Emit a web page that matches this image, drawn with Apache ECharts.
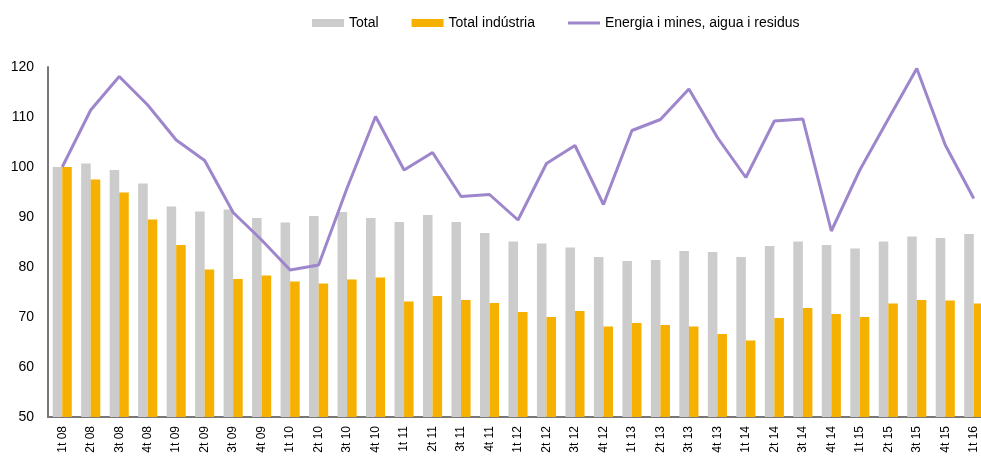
<html lang="ca">
<head>
<meta charset="UTF-8">
<title>Índex</title>
<script src="https://cdn.jsdelivr.net/npm/echarts@6/dist/echarts.min.js"></script>
<style>body{margin:0;background:#fff}</style>
</head>
<body>
<div id="main" style="width:981px;height:456px;"></div>
<script type="text/javascript">
var categories = ['1t 08','2t 08','3t 08','4t 08','1t 09','2t 09','3t 09','4t 09','1t 10','2t 10','3t 10','4t 10',
  '1t 11','2t 11','3t 11','4t 11','1t 12','2t 12','3t 12','4t 12','1t 13','2t 13','3t 13','4t 13',
  '1t 14','2t 14','3t 14','4t 14','1t 15','2t 15','3t 15','4t 15','1t 16'];
var total = [100,100.7,99.4,96.7,92.1,91.1,91.5,89.8,88.9,90.2,91.0,89.8,
  89.0,90.4,89.0,86.8,85.1,84.7,83.9,82.0,81.2,81.4,83.2,83.0,
  82.0,84.2,85.1,84.4,83.7,85.1,86.1,85.8,86.6];
var industria = [100,97.5,94.9,89.5,84.4,79.5,77.6,78.3,77.1,76.7,77.5,77.9,
  73.1,74.2,73.4,72.8,71.0,70.0,71.2,68.1,68.8,68.4,68.1,66.6,
  65.3,69.8,71.8,70.6,70.0,72.7,73.4,73.3,72.7];
var energia = [100,111.4,118.1,112.4,105.4,101.3,90.9,85.4,79.4,80.4,95.8,110.1,
  99.4,102.9,94.1,94.5,89.4,100.7,104.3,92.5,107.3,109.5,115.6,105.9,
  97.9,109.2,109.6,87.2,99.4,109.6,119.7,104.4,93.7];
var yTicks = [50, 120, 10];

var chart = echarts.init(document.getElementById('main'));
var option = {
  animation: false,
  textStyle: {fontFamily: 'Liberation Sans, Arial, sans-serif'},
  legend: {
    top: 11,
    left: 307,
    itemWidth: 32,
    itemHeight: 8,
    itemGap: 33,
    textStyle: {fontSize: 14, color: '#000'},
    data: [
      {name: 'Total', icon: 'rect'},
      {name: 'Total indústria', icon: 'rect'},
      {name: 'Energia i mines, aigua i residus', icon: 'path://M0,0L32,0L32,3L0,3Z'}
    ]
  },
  grid: {left: 48, top: 67, width: 940, height: 350, containLabel: false, outerBoundsMode: 'none'},
  xAxis: {
    type: 'category',
    data: categories,
    axisLine: {lineStyle: {color: '#777', width: 2}},
    axisTick: {show: false},
    axisLabel: {rotate: 90, fontSize: 12, color: '#000', margin: 9, interval: 0}
  },
  yAxis: {
    type: 'value',
    min: yTicks[0], max: yTicks[1], interval: yTicks[2],
    axisLine: {show: true, lineStyle: {color: '#777', width: 2}},
    axisTick: {show: false},
    splitLine: {show: false},
    axisLabel: {fontSize: 14, color: '#000', margin: 14}
  },
  series: [
    {name: 'Total', type: 'bar', data: total, barGap: '0%', barCategoryGap: '33%',
      itemStyle: {color: '#cccccc'}},
    {name: 'Total indústria', type: 'bar', data: industria,
      itemStyle: {color: '#f5b000'}},
    {name: 'Energia i mines, aigua i residus', type: 'line', data: energia,
      symbol: 'none', z: 5,
      lineStyle: {color: '#9e86cc', width: 3},
      itemStyle: {color: '#9e86cc'}}
  ]
};
chart.setOption(option);
</script>
</body>
</html>
